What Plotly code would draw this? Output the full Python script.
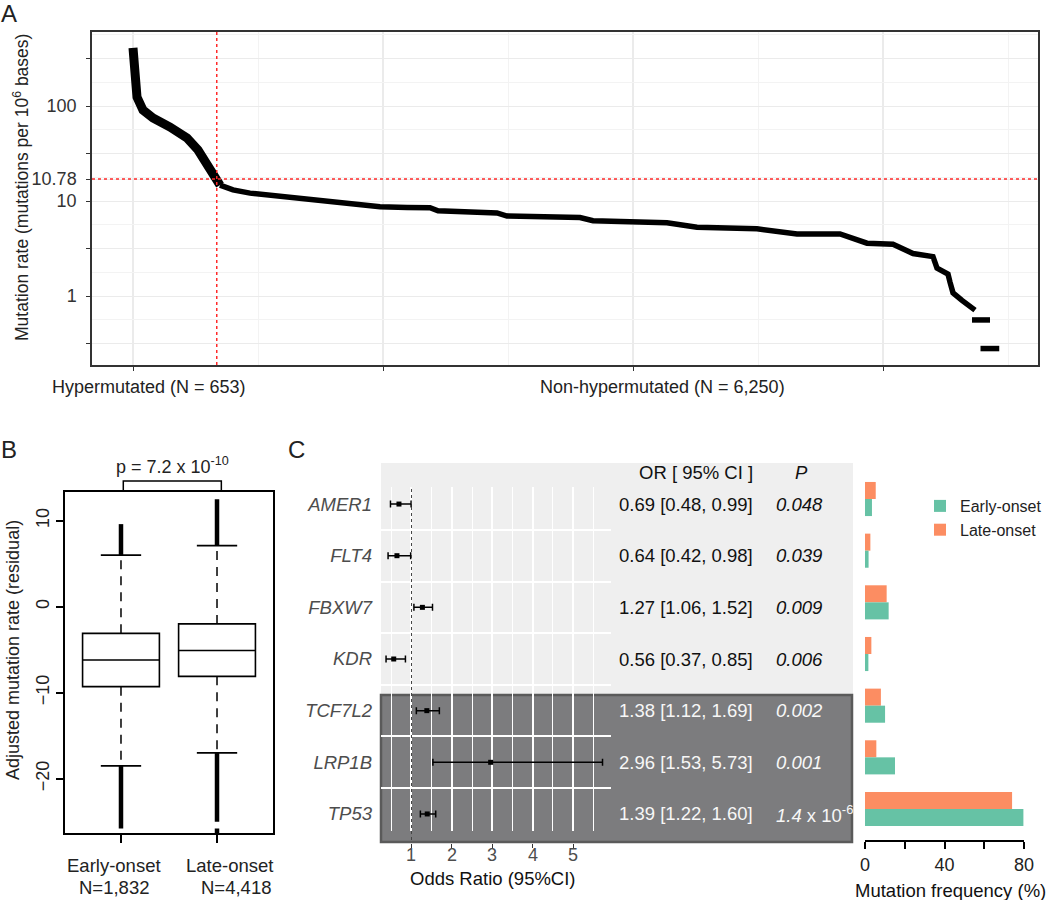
import plotly.graph_objects as go

W, H = 1050, 900
def fx(p): return p / W
def fy(p): return 1 - p / H

FONT = "Liberation Sans, Arial, Helvetica, sans-serif"

# ---------------- Panel A data (sample rank vs mutation rate) ----------------
hyper_rank = [0, 8, 24, 32, 80, 160, 296, 432, 520, 576, 616, 656, 696]
hyper_rate = [408, 239, 147, 124, 90.7, 74.8, 60.1, 46, 34.4, 27, 21.2, 17.5, 14.7]
non_rank = [696, 800, 936, 1072, 1336, 1600, 1872, 1976, 2192, 2376, 2440, 2912, 2992,
            3576, 3680, 4056, 4272, 4512, 4992, 5312, 5656, 5872, 6080, 6240, 6400,
            6432, 6520, 6536, 6560, 6632, 6736, None, 6712, 6856, None, 6780, 6930]
non_rate = [14.7, 13.1, 12.1, 11.6, 10.5, 10.0, 9.1, 8.7, 8.55, 8.5, 7.9, 7.5, 6.95,
            6.7, 6.2, 5.9, 5.9, 5.3, 5.1, 4.5, 4.5, 3.6, 3.5, 2.8, 2.6,
            1.97, 1.7, 1.4, 1.08, 0.9, 0.71, None, 0.56, 0.56, None, 0.28, 0.28]
cutoff_rank = 670          # position of the vertical red line
threshold_pos = 17.0       # position of the horizontal red line on the axis
threshold_label = "10.78"
n_hyper_label = "Hypermutated (N = 653)"
n_non_label = "Non-hypermutated (N = 6,250)"
A_X_RANGE = [-328, 7240]
A_Y_LOGRANGE = [-0.726, 2.779]
A_Y_LABELED = [1, 10, threshold_pos, 100]
A_Y_LABELS = ["1", "10", threshold_label, "100"]
A_Y_HALF = [10 ** -0.5, 10 ** 0.5, 10 ** 1.5, 10 ** 2.5]
A_Y_QUARTER = [10 ** v for v in (-0.25, 0.25, 0.75, 1.25, 1.75, 2.25, 2.75)]

# ---------------- Panel B data (box plot statistics) ----------------
box_groups = ["Early-onset", "Late-onset"]
box_n = ["N=1,832", "N=4,418"]
box_pos = [1, 2]
box_q1 = [-9.3, -8.1]
box_med = [-6.2, -5.1]
box_q3 = [-3.1, -2.0]
whisk_lo = [-18.5, -17.0]
whisk_hi = [6.0, 7.1]
outlier_segments = [  # (group position, low, high)
    (1, 6.0, 9.6), (1, -25.8, -18.5),
    (2, 7.1, 12.5), (2, -25.0, -17.0), (2, -26.6, -25.8),
]
p_label_B = "p = 7.2 x 10<sup>-10</sup>"

# ---------------- Panel C data (odds ratios) ----------------
genes = ["AMER1", "FLT4", "FBXW7", "KDR", "TCF7L2", "LRP1B", "TP53"]
or_val = [0.69, 0.64, 1.27, 0.56, 1.38, 2.96, 1.39]
or_lo = [0.48, 0.42, 1.06, 0.37, 1.12, 1.53, 1.22]
or_hi = [0.99, 0.98, 1.52, 0.85, 1.69, 5.73, 1.60]
p_vals = ["0.048", "0.039", "0.009", "0.006", "0.002", "0.001", "1.4e-6"]
highlight = [False, False, False, False, True, True, True]
rows = list(range(1, len(genes) + 1))
or_ticks = [1, 2, 3, 4, 5]

# ---------------- Panel D data (mutation frequency %) ----------------
freq_early = [3.5, 1.8, 11.9, 1.7, 10.1, 15.1, 79.7]
freq_late = [5.4, 2.7, 10.9, 3.2, 8.0, 5.7, 74.0]
COL_EARLY = "#66C2A5"
COL_LATE = "#FC8D62"

fig = go.Figure()

# ---- A traces ----
fig.add_trace(go.Scatter(x=hyper_rank, y=hyper_rate, mode="lines",
                         line=dict(color="black", width=9), xaxis="x", yaxis="y",
                         showlegend=False, hoverinfo="skip"))
fig.add_trace(go.Scatter(x=non_rank, y=non_rate, mode="lines", connectgaps=False,
                         line=dict(color="black", width=5.5), xaxis="x", yaxis="y",
                         showlegend=False, hoverinfo="skip"))
fig.add_trace(go.Scatter(x=A_X_RANGE, y=[threshold_pos, threshold_pos], mode="lines",
                         line=dict(color="#FF2A2A", width=1.5, dash="3px,3px"),
                         xaxis="x", yaxis="y", showlegend=False, hoverinfo="skip"))
fig.add_trace(go.Scatter(x=[cutoff_rank, cutoff_rank],
                         y=[10 ** A_Y_LOGRANGE[0], 10 ** A_Y_LOGRANGE[1]], mode="lines",
                         line=dict(color="#FF2A2A", width=1.5, dash="3px,3px"),
                         xaxis="x", yaxis="y", showlegend=False, hoverinfo="skip"))
# invisible trace on the overlay axis that carries the quarter-decade grid
fig.add_trace(go.Scatter(x=[0], y=[10], mode="markers", marker=dict(opacity=0),
                         xaxis="x", yaxis="y6", showlegend=False, hoverinfo="skip"))

# ---- B traces ----
for i in range(2):
    ox, oy = [], []
    for g, lo, hi in outlier_segments:
        if g == box_pos[i]:
            ox += [g, g, None]
            oy += [lo, hi, None]
    fig.add_trace(go.Scatter(x=ox, y=oy, mode="lines", line=dict(color="black", width=4.5),
                             xaxis="x2", yaxis="y2", showlegend=False, hoverinfo="skip"))
    p = box_pos[i]
    fig.add_trace(go.Scatter(x=[p, p, None, p, p], y=[box_q3[i], whisk_hi[i], None, box_q1[i], whisk_lo[i]],
                             mode="lines", line=dict(color="black", width=1.5, dash="9px,7px"),
                             xaxis="x2", yaxis="y2", showlegend=False, hoverinfo="skip"))
    fig.add_trace(go.Scatter(x=[p - 0.21, p + 0.21, None, p - 0.21, p + 0.21],
                             y=[whisk_hi[i], whisk_hi[i], None, whisk_lo[i], whisk_lo[i]],
                             mode="lines", line=dict(color="black", width=1.8),
                             xaxis="x2", yaxis="y2", showlegend=False, hoverinfo="skip"))
    fig.add_trace(go.Box(x=[p], q1=[box_q1[i]], median=[box_med[i]], q3=[box_q3[i]],
                         lowerfence=[box_q1[i]], upperfence=[box_q3[i]], width=0.8,
                         fillcolor="white", line=dict(color="black", width=1.6),
                         xaxis="x2", yaxis="y2", showlegend=False, hoverinfo="skip"))

# ---- C traces ----
fig.add_trace(go.Scatter(
    x=or_val, y=rows, mode="markers",
    marker=dict(symbol="square", size=5, color="black"),
    error_x=dict(type="data", symmetric=False,
                 array=[h - v for h, v in zip(or_hi, or_val)],
                 arrayminus=[v - l for v, l in zip(or_val, or_lo)],
                 color="black", thickness=1.5, width=3.5),
    xaxis="x3", yaxis="y3", showlegend=False, hoverinfo="skip"))
fig.add_trace(go.Scatter(x=[1], y=[0.5], mode="markers", marker=dict(opacity=0),
                         xaxis="x5", yaxis="y5", showlegend=False, hoverinfo="skip"))

# ---- D traces ----
fig.add_trace(go.Bar(x=freq_late, y=rows, orientation="h", name="Late-onset",
                     marker=dict(color=COL_LATE, line=dict(width=0)),
                     xaxis="x4", yaxis="y4", hoverinfo="skip"))
fig.add_trace(go.Bar(x=freq_early, y=rows, orientation="h", name="Early-onset",
                     marker=dict(color=COL_EARLY, line=dict(width=0)),
                     xaxis="x4", yaxis="y4", hoverinfo="skip"))

# ---------------- annotations ----------------
ann = []
def txt(x, y, s, size=18, color="#222", xanchor="center", yanchor="middle", xref="paper", yref="paper", angle=0):
    ann.append(dict(x=x, y=y, text=s, xref=xref, yref=yref, showarrow=False,
                    xanchor=xanchor, yanchor=yanchor, textangle=angle,
                    font=dict(family=FONT, size=size, color=color)))

txt(fx(9), fy(14), "A", size=24)
txt(fx(9), fy(449), "B", size=24)
txt(fx(296), fy(449), "C", size=24)

txt(fx(21), fy(188), "Mutation rate (mutations per 10<sup>6</sup> bases)", size=17.5, angle=-90)
txt(fx(149), fy(387), n_hyper_label, size=18)
txt(fx(662), fy(387), n_non_label, size=18)

txt(fx(13), fy(650), "Adjusted mutation rate (residual)", size=18, angle=-90)
txt(fx(173), fy(465), p_label_B, size=18)
txt(fx(114), fy(865), box_groups[0], size=18.5)
txt(fx(114), fy(887), box_n[0], size=18.5)
txt(fx(229), fy(865), box_groups[1], size=18.5)
txt(fx(236), fy(887), box_n[1], size=18.5)

txt(fx(755), fy(472), "OR [ 95% CI ]", size=18.5, color="#111", xanchor="right")
txt(fx(801), fy(472), "<i>P</i>", size=18.5, color="#111")
def fmt_p(s):
    if "e" in s:
        m, e = s.split("e")
        return f"<i>{m}</i> x 10<sup>{e}</sup>"
    return f"<i>{s}</i>"
for r, v, l, h, pv, hl in zip(rows, or_val, or_lo, or_hi, p_vals, highlight):
    c = "#F7F7F7" if hl else "#111"
    txt(fx(755), r, f"{v:.2f} [{l:.2f}, {h:.2f}]", size=18.5, color=c, xanchor="right", yref="y3")
    txt(fx(774), r, fmt_p(pv), size=18.5, color=c, xanchor="left", yref="y3")
for t in or_ticks:
    txt(t, fy(855), str(t), size=18, color="#4D4D4D", xref="x3")
txt(fx(493), fy(878), "Odds Ratio (95%CI)", size=18.5, color="#111")
txt(fx(950), fy(890), "Mutation frequency (%)", size=18.5, color="#111")

# ---------------- shapes ----------------
shapes = [
    dict(type="rect", xref="paper", yref="paper", x0=fx(381), x1=fx(853), y0=fy(843), y1=fy(463),
         fillcolor="#EFEFEF", line=dict(width=0), layer="below"),
    dict(type="rect", xref="paper", yref="paper", x0=fx(381), x1=fx(852), y0=fy(842), y1=fy(695),
         fillcolor="#7C7C7E", line=dict(color="#5A5A5A", width=2.5), layer="below"),
    dict(type="line", xref="x3", yref="paper", x0=1, x1=1, y0=fy(840), y1=fy(487),
         line=dict(color="#444", width=1, dash="3px,3px")),
    dict(type="path", xref="x2", yref="paper",
         path=f"M 1.024,{fy(491.7)} L 1.024,{fy(481)} L 2.045,{fy(481)} L 2.045,{fy(491.7)}",
         line=dict(color="black", width=1.5)),
]

NOAUTO = dict(automargin=False)

fig.update_layout(
    template="none",
    width=W, height=H, margin=dict(l=0, r=0, t=0, b=0, pad=0), autosize=False,
    paper_bgcolor="white", plot_bgcolor="rgba(0,0,0,0)",
    font=dict(family=FONT, size=18, color="#222"),
    barmode="group", bargap=0.34, bargroupgap=0,
    annotations=ann, shapes=shapes,
    legend=dict(x=fx(920), y=fy(489), xanchor="left", yanchor="top",
                font=dict(family=FONT, size=16, color="#222"), bgcolor="rgba(0,0,0,0)",
                traceorder="reversed", itemwidth=30, borderwidth=0),
    xaxis=dict(domain=[fx(92), fx(1038)], range=A_X_RANGE, anchor="y",
               tickvals=[0, 2000, 4000, 6000], showticklabels=False,
               ticks="outside", ticklen=4, tickcolor="#333",
               showgrid=True, gridcolor="#EBEBEB", gridwidth=1.5,
               minor=dict(tickvals=[1000, 3000, 5000, 7000], showgrid=True,
                          gridcolor="#F3F3F3", gridwidth=1, ticks=""),
               showline=True, mirror=True, linecolor="#333", linewidth=1.5, zeroline=False, **NOAUTO),
    yaxis=dict(type="log", domain=[fy(365), fy(32)], range=A_Y_LOGRANGE, anchor="x",
               tickvals=A_Y_LABELED, ticktext=A_Y_LABELS,
               ticks="outside", ticklen=4, tickcolor="#333",
               tickfont=dict(size=18, color="#333"), ticklabelstandoff=6,
               showgrid=True, gridcolor="#EBEBEB", gridwidth=1.2,
               minor=dict(tickvals=A_Y_HALF, showgrid=True, gridcolor="#EBEBEB",
                          gridwidth=1.2, ticks="outside", ticklen=4, tickcolor="#333"),
               showline=True, mirror=True, linecolor="#333", linewidth=1.5, zeroline=False, **NOAUTO),
    yaxis6=dict(type="log", overlaying="y", range=A_Y_LOGRANGE, anchor="x", side="left",
                tickvals=A_Y_QUARTER, showticklabels=False, ticks="",
                showgrid=True, gridcolor="#F3F3F3", gridwidth=1,
                zeroline=False, showline=False, **NOAUTO),
    xaxis2=dict(domain=[fx(65), fx(273)], range=[0.417, 2.583], anchor="y2",
                tickvals=box_pos, showticklabels=False, ticks="outside", ticklen=8,
                tickwidth=1.5, tickcolor="black", showgrid=False, zeroline=False,
                showline=True, mirror=True, linecolor="black", linewidth=2, **NOAUTO),
    yaxis2=dict(domain=[fy(833.3), fy(491.7)], range=[-26.35, 13.37], anchor="x2",
                tickvals=[-20, -10, 0, 10], ticks="outside", ticklen=7, tickwidth=1.5,
                tickcolor="black", tickangle=-90, tickfont=dict(size=18, color="#222"),
                showgrid=False, zeroline=False,
                showline=True, mirror=True, linecolor="black", linewidth=2, **NOAUTO),
    xaxis3=dict(domain=[fx(381), fx(611)], range=[0.245, 5.94], anchor="y3",
                tickvals=or_ticks, showticklabels=False, ticks="",
                showgrid=True, gridcolor="white", gridwidth=1.8,
                minor=dict(tickvals=[0.5, 1.5, 2.5, 3.5, 4.5, 5.5], showgrid=True,
                           gridcolor="white", gridwidth=1.3, ticks=""),
                zeroline=False, showline=False, **NOAUTO),
    yaxis3=dict(domain=[fy(831), fy(487)], range=[7.33, 0.67], anchor="x3",
                tickvals=rows, ticktext=[f"<i>{g}</i>" for g in genes],
                tickfont=dict(size=18.5, color="#4D4D4D"), ticks="", ticklabelstandoff=8,
                showgrid=False, zeroline=False, showline=False,
                minor=dict(tickvals=[1.5, 2.5, 3.5, 4.5, 5.5, 6.5], showgrid=True,
                           gridcolor="white", gridwidth=1.5, ticks=""), **NOAUTO),
    xaxis5=dict(domain=[fx(381), fx(611)], range=[0.245, 5.94], anchor="y5",
                tickvals=or_ticks, ticks="outside", ticklen=4, tickcolor="#333",
                showticklabels=False, showgrid=False,
                zeroline=False, showline=False, **NOAUTO),
    yaxis5=dict(domain=[fy(843), fy(842)], range=[0, 1], anchor="x5", visible=False, **NOAUTO),
    xaxis4=dict(domain=[fx(865), fx(1024)], range=[0, 80], anchor="y4",
                tickvals=[0, 40, 80], ticktext=["0", "40", "80"],
                ticks="outside", ticklen=7, tickwidth=2, tickcolor="black",
                tickfont=dict(size=18, color="#222"),
                minor=dict(tickvals=[20, 60], ticks="outside", ticklen=7, tickwidth=2,
                           tickcolor="black", showgrid=False),
                showline=True, linecolor="black", linewidth=2, showgrid=False, zeroline=False, **NOAUTO),
    yaxis4=dict(domain=[fy(840), fy(463)], range=[7.6, 0.303], anchor="x4", visible=False, **NOAUTO),
)

fig.write_html("out.html", config={"displayModeBar": False},
               post_script="document.body.style.margin='0px';document.body.style.overflow='hidden';")
